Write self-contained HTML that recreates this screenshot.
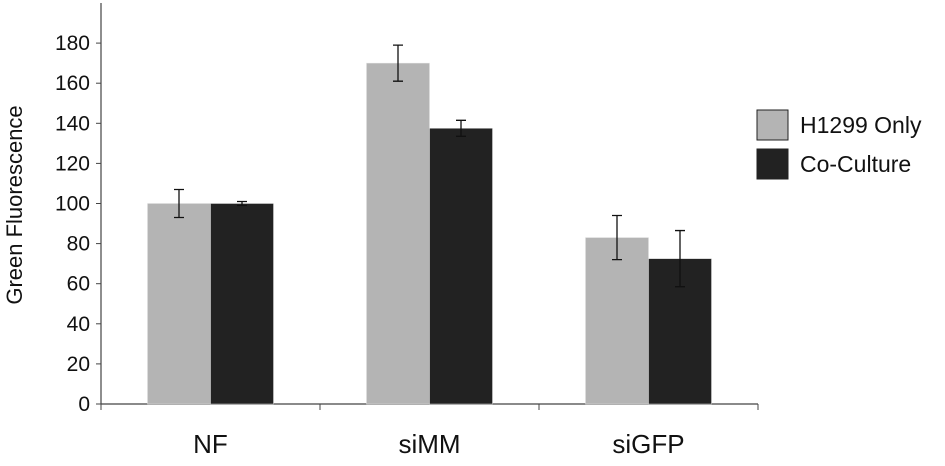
<!DOCTYPE html>
<html><head><meta charset="utf-8"><style>
body{margin:0;background:#fff}
svg text{font-family:"Liberation Sans",Arial,sans-serif;fill:#111}
</style></head><body>
<svg id="chart" width="945" height="461" xmlns="http://www.w3.org/2000/svg">
<g id="g"></g>
</svg>
<script>
const categories=["NF","siMM","siGFP"];
const h1299=[100,170,83];
const h1299Err=[7,9,11];
const coculture=[100,137.5,72.5];
const cocultureErr=[1,4,14];
const yTicks=[0,20,40,60,80,100,120,140,160,180];
const seriesNames=["H1299 Only","Co-Culture"];

const NS="http://www.w3.org/2000/svg";
const g=document.getElementById('g');
const x0=101,x1=758,y0=404,yMax=200,yTopPx=3;
const y=v=>y0-(v/yMax)*(y0-yTopPx);
const bw=(x1-x0)/categories.length;
function mk(t,a,p){const e=document.createElementNS(NS,t);for(const k in a)e.setAttribute(k,a[k]);(p||g).appendChild(e);return e;}
let e=mk('line',{x1:x0,y1:yTopPx,x2:x0,y2:y0,stroke:'#444','stroke-width':1.2});


e=mk('line',{x1:x0,y1:y0,x2:x1,y2:y0,stroke:'#444','stroke-width':1.2});


yTicks.forEach(v=>{
 const t=mk('line',{x1:x0-5,y1:y(v),x2:x0,y2:y(v),stroke:'#444'});
 
 
 const l=mk('text',{x:x0-11,y:y(v)+7,'text-anchor':'end','font-size':21});
 l.textContent=v;
 
 
});
for(let i=0;i<=categories.length;i++){
 const t=mk('line',{x1:x0+i*bw,y1:y0,x2:x0+i*bw,y2:y0+6,stroke:'#444'});
 
 
}
const barW=63;
function bar(cx,v,err,fill,name){
 const r=mk('rect',{x:cx,y:y(v),width:barW,height:y0-y(v),fill:fill,stroke:'#ddd','stroke-width':0.5});
 
 
 const m=cx+barW/2;
 const eb=mk('path',{d:`M${m},${y(v+err)}V${y(v-err)}M${m-5},${y(v+err)}H${m+5}M${m-5},${y(v-err)}H${m+5}`,stroke:'#111','stroke-width':1.3,fill:'none'});
 
 
}
categories.forEach((c,i)=>{
 const cx=x0+bw*i+bw/2;
 bar(cx-barW,h1299[i],h1299Err[i],'#b4b4b4','bar-h1299-'+c);
 bar(cx,coculture[i],cocultureErr[i],'#222','bar-coculture-'+c);
 const l=mk('text',{x:cx,y:453,'text-anchor':'middle','font-size':26});
 l.textContent=c;
 
 
});
const yl=mk('text',{x:0,y:0,transform:'translate(22,205) rotate(-90)','text-anchor':'middle','font-size':22});
yl.textContent='Green Fluorescence';


const legFill=['#b4b4b4','#222'];
seriesNames.forEach((n,i)=>{
 const ly=110+i*39;
 const r=mk('rect',{x:757,y:ly,width:31,height:30,fill:legFill[i],stroke:'#222','stroke-width':1});
 
 
 const t=mk('text',{x:800,y:ly+23,'font-size':23});
 t.textContent=n;
 
 
});
</script>
</body></html>
